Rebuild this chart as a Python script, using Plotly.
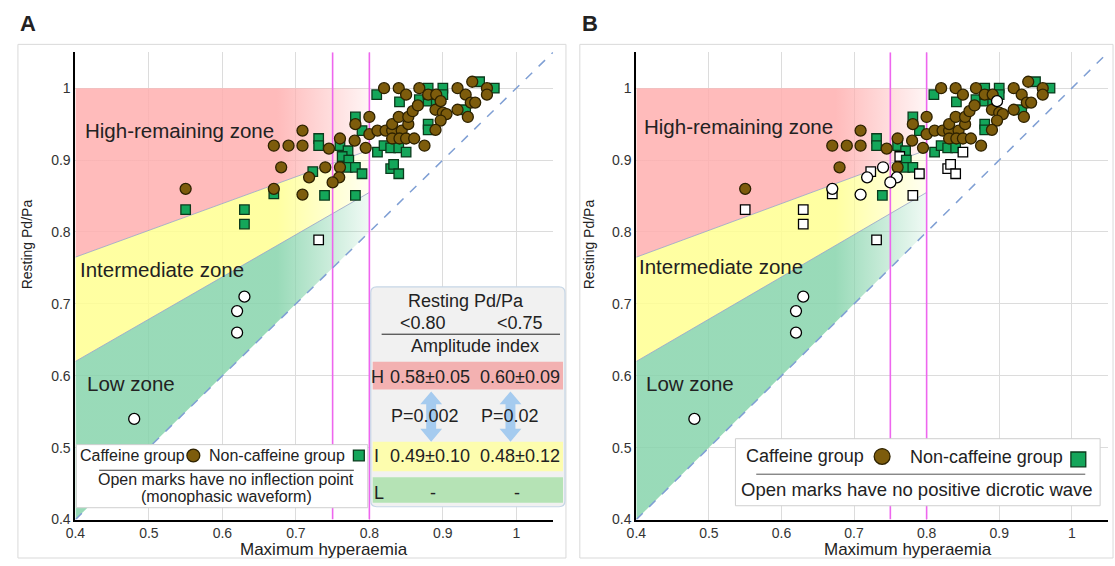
import plotly.graph_objects as go

W, H = 1115, 566

# ---------------- data ----------------
# Caffeine group (circles): x = maximum hyperaemia, y = resting Pd/Pa
caf_x = [0.48, 0.62, 0.62, 0.63, 0.55, 0.67, 0.68, 0.67, 0.69, 0.709, 0.709, 0.709, 0.718, 0.74, 0.745,
         0.76, 0.76, 0.759, 0.75, 0.78, 0.795, 0.781, 0.80, 0.80, 0.811, 0.822, 0.831, 0.844, 0.831, 0.853,
         0.831, 0.841, 0.85, 0.861, 0.875, 0.84, 0.853, 0.859, 0.866, 0.82, 0.84, 0.85, 0.868, 0.88, 0.891,
         0.92, 0.931, 0.94, 0.96, 0.96, 0.938, 0.944, 0.92, 0.934, 0.89, 0.90, 0.905, 0.897, 0.89, 0.897]
caf_y = [0.54, 0.66, 0.69, 0.71, 0.86, 0.86, 0.89, 0.92, 0.92, 0.92, 0.941, 0.852, 0.876, 0.89, 0.916,
         0.93, 0.89, 0.876, 0.869, 0.927, 0.917, 0.95, 0.96, 0.936, 0.941, 0.941, 0.941, 0.941, 0.95, 0.95,
         0.93, 0.93, 0.93, 0.93, 0.92, 0.96, 0.96, 0.968, 0.976, 1.0, 1.0, 0.991, 1.0, 0.991, 0.991,
         1.0, 0.991, 1.009, 1.0, 0.991, 0.98, 0.98, 0.97, 0.96, 0.97, 0.966, 0.964, 0.955, 0.942, 0.982]
# 1 = open mark (panel A: no inflection point; panel B: no positive dicrotic wave)
caf_openA = [1, 1, 1, 1] + [0] * 56
caf_openB = [1, 1, 1, 1, 0, 1, 0, 0, 0, 0, 0, 1, 1, 1, 0,
             0, 0, 1, 1, 0, 0, 0, 0, 0, 0, 0, 0, 0, 0, 0,
             0, 0, 0, 0, 0, 0, 0, 0, 0, 0, 0, 0, 0, 0, 0,
             0, 0, 0, 0, 0, 0, 0, 0, 0, 0, 0, 0, 0, 0, 1]

# Non-caffeine group (squares)
non_x = [0.55, 0.63, 0.63, 0.67, 0.731, 0.739, 0.781, 0.723, 0.731, 0.731, 0.76, 0.771, 0.763, 0.772,
         0.77, 0.781, 0.79, 0.781, 0.79, 0.81, 0.841, 0.868, 0.811, 0.82, 0.829, 0.84, 0.85, 0.829,
         0.833, 0.84, 0.88, 0.90, 0.90, 0.88, 0.891, 0.95, 0.97, 0.931, 0.88, 0.88, 0.88]
non_y = [0.831, 0.831, 0.811, 0.853, 0.789, 0.851, 0.851, 0.884, 0.93, 0.92, 0.92, 0.913, 0.905, 0.90,
         0.89, 0.89, 0.881, 0.96, 0.941, 0.991, 0.981, 0.984, 0.911, 0.92, 0.917, 0.917, 0.911, 0.888,
         0.894, 0.881, 1.0, 1.0, 0.991, 0.982, 0.981, 1.009, 1.0, 0.97, 0.95, 0.942, 0.991]
non_openA = [0, 0, 0, 0, 1] + [0] * 36
non_openB = [1, 1, 1, 1, 1, 0, 1, 1, 0, 0, 0, 0, 1, 0,
             0, 0, 1, 0, 0, 0, 0, 0, 0, 0, 0, 0, 1, 1,
             1, 1, 0, 0, 0, 0, 0, 0, 0, 0, 0, 0, 0]

# zones (boundaries between x = 0.4 and x = 0.8)
zone_x = [0.4, 0.8]
red_top = [1.0, 1.0]
red_low = [0.765, 0.914]
green_top = [0.62, 0.855]
identity = [0.4, 0.8]
thresholds = [0.75, 0.80]
axis_rng = [0.4, 1.05]
tick_vals = [0.4, 0.5, 0.6, 0.7, 0.8, 0.9, 1.0]
tick_text = ["0.4", "0.5", "0.6", "0.7", "0.8", "0.9", "1"]

# ---------------- styling ----------------
FONT = "Liberation Sans, Arial, sans-serif"
TXT = "#222222"
CAF_FILL, CAF_LINE = "#7d5c0c", "#2e2200"
NON_FILL, NON_LINE = "#14a65a", "#0b3a1c"


def X(px):
    return px / W


def Y(py):
    return 1 - py / H


fig = go.Figure()


def grad(rgb, a=0.85):
    r, g, b = rgb
    return [[0, f"rgba({r},{g},{b},{a})"], [0.68, f"rgba({r},{g},{b},{a})"],
            [1, f"rgba({r},{g},{b},0.1)"]]


def add_panel(xa, ya, openC, openN):
    # red (high-remaining) zone
    fig.add_trace(go.Scatter(
        x=[zone_x[0], zone_x[1], zone_x[1], zone_x[0]],
        y=[red_top[0], red_top[1], red_low[1], red_low[0]],
        fill="toself", mode="none", xaxis=xa, yaxis=ya, hoverinfo="skip",
        fillgradient=dict(type="horizontal", colorscale=grad((255, 175, 175)), start=0.4, stop=0.8)))
    # yellow (intermediate) zone
    fig.add_trace(go.Scatter(
        x=[zone_x[0], zone_x[1], zone_x[1], zone_x[0]],
        y=[red_low[0], red_low[1], green_top[1], green_top[0]],
        fill="toself", mode="none", xaxis=xa, yaxis=ya, hoverinfo="skip",
        fillgradient=dict(type="horizontal", colorscale=grad((255, 255, 145)), start=0.4, stop=0.8)))
    # green (low) zone
    fig.add_trace(go.Scatter(
        x=[zone_x[0], zone_x[1], zone_x[1], zone_x[0]],
        y=[green_top[0], green_top[1], identity[1], identity[0]],
        fill="toself", mode="none", xaxis=xa, yaxis=ya, hoverinfo="skip",
        fillgradient=dict(type="horizontal", colorscale=grad((135, 212, 172)), start=0.4, stop=0.8)))
    # zone boundaries
    for yy in (red_low, green_top):
        fig.add_trace(go.Scatter(x=zone_x, y=yy, mode="lines", xaxis=xa, yaxis=ya,
                                 line=dict(color="rgba(150,160,200,0.8)", width=1), hoverinfo="skip"))
    # threshold lines
    for t in thresholds:
        fig.add_trace(go.Scatter(x=[t, t], y=axis_rng, mode="lines", xaxis=xa, yaxis=ya,
                                 line=dict(color="#ee66ee", width=1.6), hoverinfo="skip"))
    # line of identity
    fig.add_trace(go.Scatter(x=axis_rng, y=axis_rng, mode="lines", xaxis=xa, yaxis=ya,
                             line=dict(color="#7f9fd4", width=1.5, dash="dash"), hoverinfo="skip"))
    # non-caffeine squares
    fig.add_trace(go.Scatter(
        x=non_x, y=non_y, mode="markers", xaxis=xa, yaxis=ya,
        marker=dict(symbol="square", size=9.5,
                    color=["white" if o else NON_FILL for o in openN],
                    line=dict(color=["black" if o else NON_LINE for o in openN], width=1.3))))
    # caffeine circles
    fig.add_trace(go.Scatter(
        x=caf_x, y=caf_y, mode="markers", xaxis=xa, yaxis=ya,
        marker=dict(symbol="circle", size=11,
                    color=["white" if o else CAF_FILL for o in openC],
                    line=dict(color=["black" if o else CAF_LINE for o in openC], width=1.3))))


add_panel("x", "y", caf_openA, non_openA)
add_panel("x2", "y2", caf_openB, non_openB)

ax_common = dict(range=axis_rng, tickvals=tick_vals, ticktext=tick_text, showgrid=True,
                 gridcolor="#dcdcdc", gridwidth=1, showline=True, linecolor="black", linewidth=2,
                 zeroline=False, ticks="", tickfont=dict(size=14, color="#333333", family=FONT))
ydom = [Y(527), Y(53)]
fig.update_layout(
    xaxis=dict(domain=[X(66), X(548)], anchor="y", **ax_common),
    yaxis=dict(domain=ydom, anchor="x", **ax_common),
    xaxis2=dict(domain=[X(632), X(1108)], anchor="y2", **ax_common),
    yaxis2=dict(domain=ydom, anchor="x2", **ax_common),
)

shapes = []
ann = []


def text(px, py, s, size=16, xanchor="center", bold=False, angle=0):
    ann.append(dict(x=X(px), y=Y(py), xref="paper", yref="paper", text=f"<b>{s}</b>" if bold else s,
                    showarrow=False, xanchor=xanchor, yanchor="middle", textangle=angle,
                    font=dict(size=size, color=TXT, family=FONT)))


def rect(x0, y0, x1, y1, fill, line="rgba(0,0,0,0)", lw=1, layer="above"):
    shapes.append(dict(type="rect", xref="paper", yref="paper", x0=X(x0), x1=X(x1), y0=Y(y1), y1=Y(y0),
                       fillcolor=fill, line=dict(color=line, width=lw), layer=layer))


def hline(x0, x1, y, color="#444444", lw=1):
    shapes.append(dict(type="line", xref="paper", yref="paper", x0=X(x0), x1=X(x1), y0=Y(y), y1=Y(y),
                       line=dict(color=color, width=lw), layer="above"))


def rrect(x0, y0, x1, y1, r, fill, line):
    p = (f"M {X(x0 + r)},{Y(y0)} L {X(x1 - r)},{Y(y0)} Q {X(x1)},{Y(y0)} {X(x1)},{Y(y0 + r)} "
         f"L {X(x1)},{Y(y1 - r)} Q {X(x1)},{Y(y1)} {X(x1 - r)},{Y(y1)} L {X(x0 + r)},{Y(y1)} "
         f"Q {X(x0)},{Y(y1)} {X(x0)},{Y(y1 - r)} L {X(x0)},{Y(y0 + r)} Q {X(x0)},{Y(y0)} {X(x0 + r)},{Y(y0)} Z")
    shapes.append(dict(type="path", xref="paper", yref="paper", path=p, fillcolor=fill,
                       line=dict(color=line, width=1.2), layer="above"))


def darrow(cx, t, b, hw=11, sw=5, hl=13, color="rgba(160,200,238,0.95)"):
    pts = [(cx, t), (cx + hw, t + hl), (cx + sw, t + hl), (cx + sw, b - hl), (cx + hw, b - hl), (cx, b),
           (cx - hw, b - hl), (cx - sw, b - hl), (cx - sw, t + hl), (cx - hw, t + hl)]
    p = "M " + " L ".join(f"{X(a)},{Y(c)}" for a, c in pts) + " Z"
    shapes.append(dict(type="path", xref="paper", yref="paper", path=p, fillcolor=color,
                       line=dict(width=0), layer="above"))


def circ(cx, cy, r, fill, line):
    shapes.append(dict(type="circle", xref="paper", yref="paper", x0=X(cx - r), x1=X(cx + r),
                       y0=Y(cy + r), y1=Y(cy - r), fillcolor=fill, line=dict(color=line, width=1.3),
                       layer="above"))


# panel frames
rect(8, 45, 561, 566, "rgba(0,0,0,0)", "#d9d9d9", 1, layer="below")
rect(575, 45, 1113, 566, "rgba(0,0,0,0)", "#d9d9d9", 1, layer="below")
text(18, 24, "A", size=22, bold=True)
text(585, 24, "B", size=22, bold=True)

# axis titles
text(18, 248, "Resting Pd/Pa", size=14, angle=-90)
text(585, 248, "Resting Pd/Pa", size=14, angle=-90)
text(317, 557, "Maximum hyperaemia", size=17)
text(906, 557, "Maximum hyperaemia", size=17)

# zone labels
for ox, dx in ((66, 0), (632, -2)):
    text(ox + 7 + dx + 1, 132 - (4 if dx else 0), "High-remaining zone", size=20.5, xanchor="left")
    text(ox + 1 + dx + 2, 273 - (3 if dx else 0), "Intermediate zone", size=20.5, xanchor="left")
    text(ox + 9 + dx + 1, 389, "Low zone", size=20.5, xanchor="left")

# ---- panel A table ----
TS = 18
rrect(364, 291, 560, 514, 6, "#f1f1f1", "#c6d6e6")
rect(366, 367, 558, 395, "#f3b1b1")
rect(366, 448, 558, 478, "#fdfdae")
rect(366, 484, 558, 510, "#b5e3b5")
darrow(425, 397, 448)
darrow(505, 397, 448)
text(460, 305, "Resting Pd/Pa", size=TS)
text(417, 328, "&lt;0.80", size=TS)
text(515, 328, "&lt;0.75", size=TS)
hline(375, 555, 339, "#222222", 1)
text(469, 351, "Amplitude index", size=TS)
text(371, 382, "H", size=TS)
text(424, 382, "0.58±0.05", size=TS)
text(515, 382, "0.60±0.09", size=TS)
text(419, 422, "P=0.002", size=TS)
text(505, 422, "P=0.02", size=TS)
text(370, 463, "I", size=TS)
text(424, 463, "0.49±0.10", size=TS)
text(515, 463, "0.48±0.12", size=TS)
text(372, 500, "L", size=TS)
text(427, 500, "-", size=TS)
text(512, 500, "-", size=TS)

# ---- panel A legend ----
rect(67, 451, 361, 515, "white", "#cfcfcf", 1)
text(69, 462, "Caffeine group", size=16, xanchor="left")
circ(185, 462, 6.5, CAF_FILL, CAF_LINE)
text(199, 462, "Non-caffeine group", size=16, xanchor="left")
rect(346.5, 456.5, 357.5, 467.5, NON_FILL, NON_LINE, 1.3)
hline(90, 347, 477, "#333333", 1)
text(218, 486, "Open marks have no inflection point", size=16)
text(218, 504, "(monophasic waveform)", size=16)

# ---- panel B legend ----
rect(732, 445, 1100, 513, "white", "#cfcfcf", 1)
text(741, 463, "Caffeine group", size=18, xanchor="left")
circ(880, 463, 8, CAF_FILL, CAF_LINE)
text(906, 464, "Non-caffeine group", size=18, xanchor="left")
rect(1070.5, 458.5, 1085.5, 473.5, NON_FILL, NON_LINE, 1.3)
hline(753, 1085, 481, "#555555", 1)
text(915, 497, "Open marks have no positive dicrotic wave", size=18.5)

fig.update_layout(
    width=W, height=H, margin=dict(l=0, r=0, t=0, b=0),
    plot_bgcolor="white", paper_bgcolor="white", showlegend=False,
    font=dict(family=FONT, color=TXT), shapes=shapes, annotations=ann,
)

fig.write_html("out.html")
